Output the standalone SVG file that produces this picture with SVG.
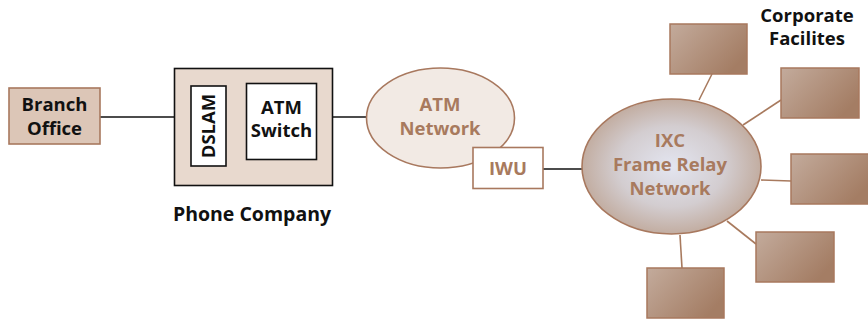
<svg xmlns="http://www.w3.org/2000/svg" width="868" height="320" viewBox="0 0 868 320">
<style>
text{font-family:"Open Sans","Noto Sans","Liberation Sans",sans-serif;font-weight:bold;text-anchor:middle}
.blk{fill:#111;font-size:18.5px}
.brn{fill:#a87a5e;font-size:18.5px}
.ln{stroke:#111;stroke-width:1.6;fill:none}
.bl{stroke:#a87a5e;stroke-width:1.6;fill:none}
.fac{fill:url(#fg);stroke:#a8785e;stroke-width:1.5}
</style>
<defs>
<linearGradient id="fg" x1="0" y1="0" x2="1" y2="0.6">
<stop offset="0" stop-color="#c3ab9c"/>
<stop offset="1" stop-color="#a47d64"/>
</linearGradient>
<radialGradient id="ig" cx="0.5" cy="0.5" r="0.5">
<stop offset="0" stop-color="#e3e5f0"/>
<stop offset="0.6" stop-color="#d3cdd0"/>
<stop offset="1" stop-color="#c2ada1"/>
</radialGradient>
</defs>
<g id="connectors">
<line class="ln" x1="100" y1="117" x2="191" y2="117"/>
<line class="ln" x1="226" y1="117" x2="246" y2="117"/>
<line class="ln" x1="316" y1="117" x2="367" y2="117"/>
<line class="ln" x1="543" y1="169" x2="583" y2="169"/>
<line class="bl" x1="699" y1="100" x2="712" y2="74"/>
<line class="bl" x1="743" y1="125" x2="781" y2="100"/>
<line class="bl" x1="761" y1="180" x2="791" y2="181"/>
<line class="bl" x1="727" y1="221" x2="756" y2="244"/>
<line class="bl" x1="680" y1="235" x2="682" y2="268"/>
</g>
<g id="branch">
<rect x="9" y="88" width="91" height="56" fill="#dcc6b7" stroke="#a8785e" stroke-width="1.6"/>
<text class="blk" x="54.5" y="111">Branch</text>
<text class="blk" x="54.5" y="135">Office</text>
</g>
<g id="phone">
<rect x="174.5" y="68.5" width="158" height="117" fill="#e8d9ce" stroke="#111" stroke-width="1.6"/>
<text class="blk" x="252" y="221" style="font-size:19.5px">Phone Company</text>
</g>
<g id="dslam">
<rect x="191" y="86" width="35" height="80" fill="#fff" stroke="#111" stroke-width="1.6"/>
<text class="blk" transform="translate(215,126) rotate(-90)">DSLAM</text>
</g>
<g id="atmswitch">
<rect x="246.5" y="83.5" width="70" height="76" fill="#fff" stroke="#111" stroke-width="1.6"/>
<text class="blk" x="281.5" y="114">ATM</text>
<text class="blk" x="281.5" y="137">Switch</text>
</g>
<g id="atmnet">
<ellipse cx="440.5" cy="118" rx="74" ry="50" fill="#f2eae4" stroke="#a8785e" stroke-width="1.6"/>
<text class="brn" x="440" y="111">ATM</text>
<text class="brn" x="440" y="135">Network</text>
</g>
<g id="iwu">
<rect x="473" y="147.5" width="70" height="41" fill="#fff" stroke="#a8785e" stroke-width="1.6"/>
<text class="brn" x="508" y="175">IWU</text>
</g>
<g id="ixc">
<ellipse cx="671.5" cy="166.5" rx="89.5" ry="67.5" fill="url(#ig)" stroke="#a8785e" stroke-width="1.6"/>
<text class="brn" x="670" y="147">IXC</text>
<text class="brn" x="670" y="171">Frame Relay</text>
<text class="brn" x="670" y="195">Network</text>
</g>
<g id="fac1"><rect class="fac" x="670" y="24" width="77" height="50"/></g>
<g id="fac2"><rect class="fac" x="781" y="68" width="78" height="50"/></g>
<g id="fac3"><rect class="fac" x="791" y="154" width="78" height="50"/></g>
<g id="fac4"><rect class="fac" x="756" y="232" width="78" height="50"/></g>
<g id="fac5"><rect class="fac" x="647" y="268" width="77" height="50"/></g>
<g id="corp">
<text class="blk" x="807" y="22">Corporate</text>
<text class="blk" x="807" y="45">Facilites</text>
</g>
</svg>
